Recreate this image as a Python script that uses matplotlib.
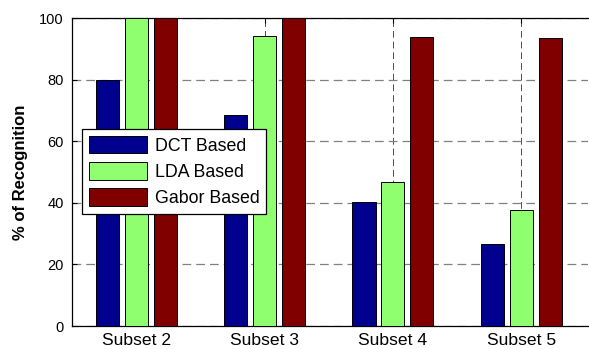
import matplotlib
matplotlib.use("Agg")
import matplotlib.pyplot as plt
import numpy as np

plt.rcParams['font.family'] = ['Liberation Sans', 'DejaVu Sans']

categories = ["Subset 2", "Subset 3", "Subset 4", "Subset 5"]
series_names = ["DCT Based", "LDA Based", "Gabor Based"]
dct = [80.0, 68.6, 40.4, 26.6]
lda = [100.0, 94.2, 46.7, 37.8]
gabor = [100.0, 100.0, 93.8, 93.4]
colors = ["#00008F", "#8FFF70", "#800000"]
yticks = [0, 20, 40, 60, 80, 100]

fig = plt.figure(figsize=(5.89, 3.49), dpi=100)
ax = fig.add_axes([72/589, (349-326)/349, (588-72)/589, (326-18)/349])

x = np.arange(1, len(categories) + 1)
width = 0.18
offset = 0.225
for i, (vals, name, c) in enumerate(zip([dct, lda, gabor], series_names, colors)):
    ax.bar(x + (i - 1) * offset, vals, width, color=c, edgecolor='black',
           linewidth=0.7, label=name, zorder=3)

ax.set_xlim(0.5, 4.52)
ax.set_ylim(0, 100)
ax.set_xticks(x)
ax.set_xticklabels(categories, fontsize=12.6)
ax.set_yticks(yticks)
ax.set_yticklabels([str(v) for v in yticks], fontsize=10.5)
ax.tick_params(direction='in', length=3.5, width=0.8, top=True, right=False)
ax.tick_params(axis='x', pad=5)
ax.tick_params(axis='y', pad=6)

ax.set_axisbelow(True)
ax.xaxis.grid(True, color='0.3', linestyle=(0, (7, 4)), linewidth=0.7)
ax.yaxis.grid(True, color='0.5', linestyle=(0, (7, 4)), linewidth=0.9)

for s in ['left', 'top', 'bottom']:
    ax.spines[s].set_linewidth(0.9)
ax.spines['right'].set_visible(False)

ax.set_ylabel("% of Recognition", fontsize=12, fontweight='bold', labelpad=8)

leg = ax.legend(loc='lower left', bbox_to_anchor=((82-72)/516, (326-214)/308),
                fontsize=12.8, handlelength=3.3, handleheight=1.15,
                labelspacing=0.42, handletextpad=0.4, borderpad=0.38,
                borderaxespad=0, fancybox=False, framealpha=1)
leg.get_frame().set_edgecolor('black')
leg.get_frame().set_linewidth(0.9)

fig.savefig("out.png", dpi=100)
